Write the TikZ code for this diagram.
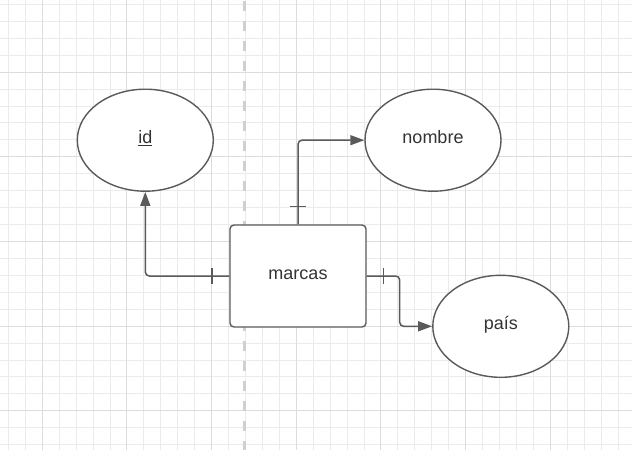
\documentclass[tikz,border=0pt]{standalone}
\usepackage{fontspec}
\setmainfont{Liberation Sans}
\usetikzlibrary{shapes.geometric,arrows.meta}
\definecolor{gridminor}{HTML}{EBEBEB}
\definecolor{gridmajor}{HTML}{DCDCDC}
\definecolor{dashc}{HTML}{D0D0D0}
\definecolor{linec}{HTML}{5A5A5A}
\definecolor{textc}{HTML}{333333}
\tikzset{
  entity/.style={draw=linec, line width=1.4pt, rectangle, rounded corners=4pt, minimum width=136pt, minimum height=102pt, inner sep=0pt, fill=white},
  attr/.style={draw=linec, line width=1.4pt, ellipse, minimum width=136pt, minimum height=102pt, inner sep=0pt, fill=white},
  lbl/.style={text=textc, font=\fontsize{18pt}{21pt}\selectfont, text height=10pt, text depth=4pt},
  conn/.style={draw=linec, line width=1.5pt, rounded corners=4pt},
  arr/.style={-{Triangle[length=14pt,width=10pt]}},
  tick/.style={draw=linec, line width=1.5pt}
}
\begin{document}
\begin{tikzpicture}[x=1pt,y=-1pt]
\useasboundingbox (0,0) rectangle (632,450);
\fill[white] (0,0) rectangle (632,450);
% grid
\foreach \k in {0,...,37} {
  \pgfmathsetmacro{\xx}{8.3+16.935*\k}
  \draw[gridminor, line width=0.8pt] (\xx,0) -- (\xx,450);
}
\foreach \k in {0,...,26} {
  \pgfmathsetmacro{\yy}{4.3+16.935*\k}
  \draw[gridminor, line width=0.8pt] (0,\yy) -- (632,\yy);
}
\foreach \k in {0,...,6} {
  \pgfmathsetmacro{\xx}{42.17+84.675*\k}
  \draw[gridmajor, line width=0.9pt] (\xx,0) -- (\xx,450);
}
\foreach \k in {0,...,4} {
  \pgfmathsetmacro{\yy}{72.04+84.675*\k}
  \draw[gridmajor, line width=0.9pt] (0,\yy) -- (632,\yy);
}
% dashed separator
\coordinate (dtop) at (244.3,1);
\coordinate (dbot) at (244.3,450);
\draw[dashc, line width=3pt, dash pattern=on 10pt off 10pt] (dtop) -- (dbot);
% nodes
\node[attr] (id) at (145.3,140.2) {};
\node[lbl] at (id.center) {\underline{id}};
\node[attr] (nombre) at (433,140.2) {};
\node[lbl] at (nombre.center) {nombre};
\node[attr] (pais) at (500.8,326.3) {};
\node[lbl] at (pais.center) {país};
\node[entity] (marcas) at (298,276) {};
\node[lbl] at (marcas.center) {marcas};
% connectors
\draw[conn, arr] (marcas.west) -| (id.south);
\draw[conn, arr] (marcas.north) |- (nombre.west);
\coordinate (rbend) at ([xshift=33pt]marcas.east);
\draw[conn, arr] (marcas.east) -- (rbend) |- (pais.west);
% ticks
\draw[tick] ([xshift=-17.5pt,yshift=8pt]marcas.west) -- ([xshift=-17.5pt,yshift=-8pt]marcas.west);
\draw[tick] ([xshift=-8pt,yshift=18pt]marcas.north) -- ([xshift=8pt,yshift=18pt]marcas.north);
\draw[tick] ([xshift=17pt,yshift=8pt]marcas.east) -- ([xshift=17pt,yshift=-8pt]marcas.east);
\end{tikzpicture}
\end{document}
